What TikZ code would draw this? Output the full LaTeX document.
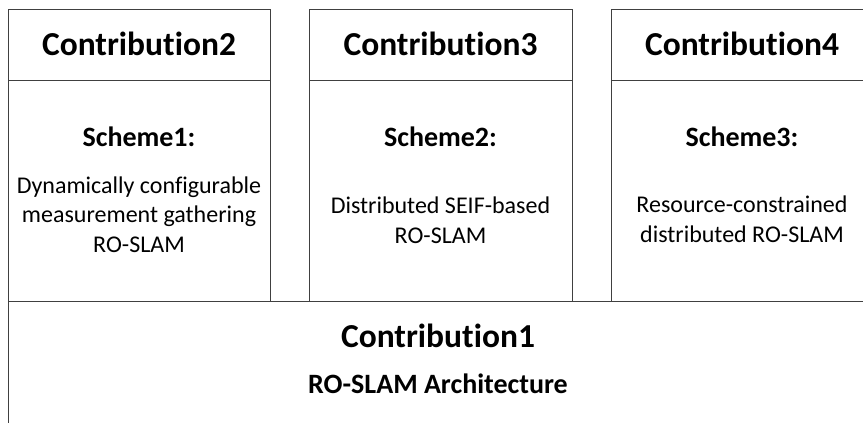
\documentclass[tikz,border=0pt]{standalone}
\usepackage{fontspec}
\setmainfont{Carlito}[Ligatures=NoCommon]
\begin{document}
\begin{tikzpicture}[x=1pt,y=-1pt,
  frame/.style={draw=black!75,line width=1pt,anchor=north west,inner sep=0pt,outer sep=0pt},
  headtxt/.style={anchor=base,inner sep=0pt,font=\fontsize{33.5}{40}\selectfont\bfseries},
  schemetxt/.style={anchor=base,inner sep=0pt,font=\fontsize{28}{34}\selectfont\bfseries},
  bodytxt/.style={anchor=base,inner sep=0pt,font=\fontsize{24}{30}\selectfont}]
\useasboundingbox (0,0) rectangle (863,423);
\clip (0,0) rectangle (863,423);

% bottom foundation box
\node[frame,minimum width=860pt,minimum height=200pt] (base) at (8,301) {};
% three upper columns: header cell and body cell
\node[frame,minimum width=262pt,minimum height=71pt] (h2) at (8,9) {};
\node[frame,minimum width=262pt,minimum height=221pt] (b2) at (8,80) {};
\node[frame,minimum width=263pt,minimum height=71pt] (h3) at (309,9) {};
\node[frame,minimum width=263pt,minimum height=221pt] (b3) at (309,80) {};
\node[frame,minimum width=262pt,minimum height=71pt] (h4) at (611,9) {};
\node[frame,minimum width=262pt,minimum height=221pt] (b4) at (611,80) {};

% headers
\node[headtxt] (t2) at (139,55) {Contribution2};
\node[headtxt] (t3) at (440.5,55) {Contribution3};
\node[headtxt] (t4) at (742,55) {Contribution4};

% column 1
\node[schemetxt] (s1) at (139,146) {Scheme1:};
\node[bodytxt] (s1a) at (139,193) {Dynamically configurable};
\node[bodytxt] (s1b) at (139,222) {measurement gathering};
\node[bodytxt] (s1c) at (139,252) {RO-SLAM};

% column 2
\node[schemetxt] (s2) at (440.5,146) {Scheme2:};
\node[bodytxt] (s2a) at (440.5,213) {Distributed SEIF-based};
\node[bodytxt] (s2b) at (440.5,243) {RO-SLAM};

% column 3
\node[schemetxt] (s3) at (742,146) {Scheme3:};
\node[bodytxt] (s3a) at (742,212) {Resource-constrained};
\node[bodytxt] (s3b) at (742,242) {distributed RO-SLAM};

% foundation text
\node[headtxt] (t1) at (438,347) {Contribution1};
\node[schemetxt] (arch) at (438,393) {RO-SLAM Architecture};
\end{tikzpicture}
\end{document}
